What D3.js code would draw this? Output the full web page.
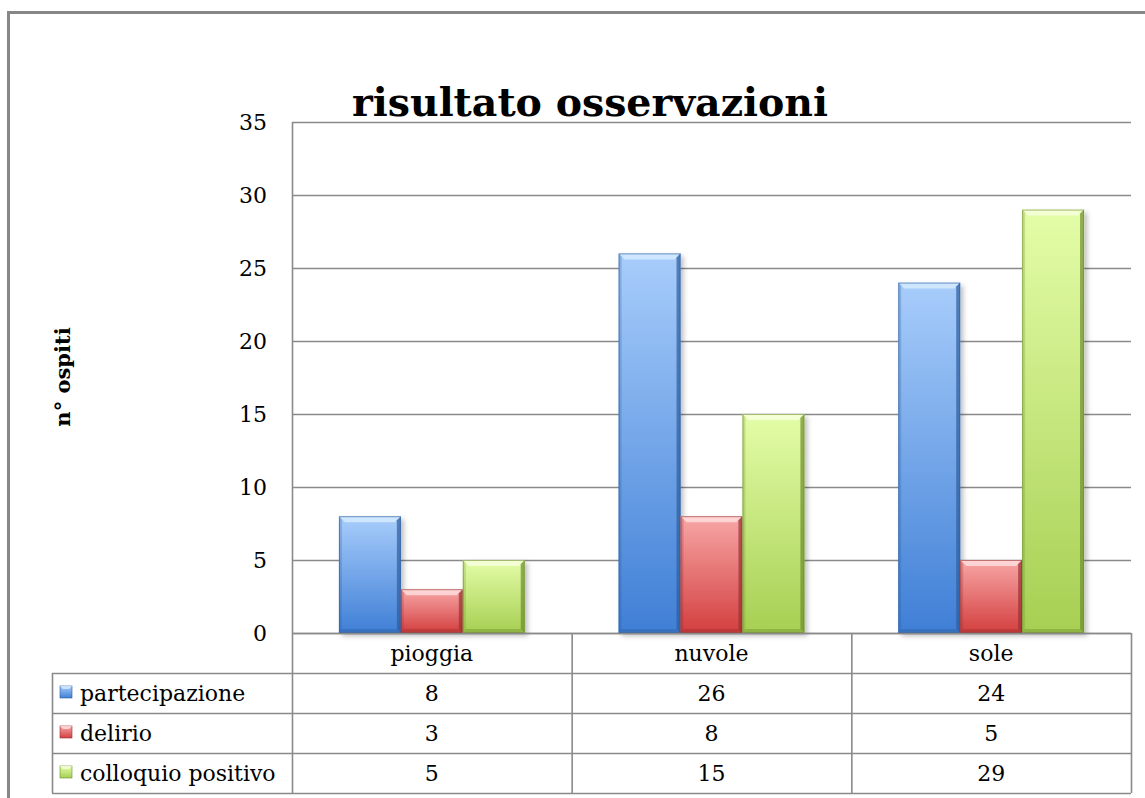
<!DOCTYPE html>
<html>
<head>
<meta charset="utf-8">
<script src="https://cdn.jsdelivr.net/npm/d3@7"></script>
<style>
  html, body { margin: 0; padding: 0; background: #fff; }
  svg { display: block; }
  text { font-family: "DejaVu Serif", "Liberation Serif", serif; fill: #000; }
</style>
</head>
<body>
<svg id="chart" width="1145" height="798"></svg>
<script>
// ---- data ----
const categories = ["pioggia", "nuvole", "sole"];
const seriesNames = ["partecipazione", "delirio", "colloquio positivo"];
const partecipazione = [8, 26, 24];
const delirio = [3, 8, 5];
const colloquioPositivo = [5, 15, 29];
const yTicks = [0, 5, 10, 15, 20, 25, 30, 35];
const titleText = "risultato osservazioni";
const yLabel = "n° ospiti";

const seriesValues = [partecipazione, delirio, colloquioPositivo];
const palette = [
  { top: "#a8cdfb", bottom: "#3f7fd6", edge: "#2d5c9c", light: "#d8ecff" },
  { top: "#f8a6a6", bottom: "#d33f3f", edge: "#983030", light: "#ffe0e0" },
  { top: "#e4fda8", bottom: "#a6cf52", edge: "#6c8c2e", light: "#f8ffe0" }
];
const FONT = '"DejaVu Serif", "Liberation Serif", serif';

const svg = d3.select("#chart");
const defs = svg.append("defs");
palette.forEach((p, i) => {
  const g = defs.append("linearGradient").attr("id", "grad" + i)
    .attr("x1", 0).attr("y1", 0).attr("x2", 0).attr("y2", 1);
  g.append("stop").attr("offset", "0%").attr("stop-color", p.top);
  g.append("stop").attr("offset", "100%").attr("stop-color", p.bottom);
});
const sh = defs.append("filter").attr("id", "shadow")
  .attr("x", "-20%").attr("y", "-10%").attr("width", "150%").attr("height", "130%");
sh.append("feDropShadow").attr("dx", 3).attr("dy", 3).attr("stdDeviation", 2.5)
  .attr("flood-color", "#000").attr("flood-opacity", 0.25);

// outer frame
svg.append("rect").attr("x", 8.5).attr("y", 12.5).attr("width", 1160).attr("height", 820)
  .attr("fill", "none").attr("stroke", "#878787").attr("stroke-width", 3);

// ---- scales ----
const plotLeft = 292, plotRight = 1131, plotTop = 122, plotBottom = 633;
const x0 = d3.scaleBand().domain(categories).range([plotLeft, plotRight]).paddingInner(0).paddingOuter(0);
const x1 = d3.scaleBand().domain(seriesNames).range([0, x0.bandwidth()]).paddingInner(0).paddingOuter(0.758);
const y = d3.scaleLinear().domain([0, 35]).range([plotBottom, plotTop]);

// gridlines
const grid = svg.append("g");
grid.selectAll("line").data(yTicks).join("line")
  .attr("x1", plotLeft).attr("x2", plotRight)
  .attr("y1", d => Math.round(y(d)) + 0.5).attr("y2", d => Math.round(y(d)) + 0.5)
  .attr("stroke", "#8a8a8a").attr("stroke-width", 1.6);
// left axis line
svg.append("line").attr("x1", plotLeft + 0.5).attr("x2", plotLeft + 0.5)
  .attr("y1", plotTop).attr("y2", 793).attr("stroke", "#8a8a8a").attr("stroke-width", 1.6);

// y axis tick labels via d3 axis
const yAxis = d3.axisLeft(y).tickValues(yTicks).tickSize(0).tickPadding(25).tickFormat(d3.format("d"));
const ya = svg.append("g").attr("transform", `translate(${plotLeft},0)`).call(yAxis);
ya.select(".domain").remove();
ya.selectAll("text").style("font-family", FONT)
  .style("font-size", "22px").attr("fill", "#000");

// bars
const groups = svg.append("g").selectAll("g").data(categories).join("g")
  .attr("transform", d => `translate(${x0(d)},0)`);
groups.each(function(cat, ci) {
  const g = d3.select(this);
  seriesNames.forEach((s, si) => {
    const v = seriesValues[si][ci];
    const bx = x1(s), bw = x1.bandwidth();
    const by = y(v), bh = y(0) - y(v);
    const p = palette[si];
    const bar = g.append("g");
    bar.append("rect").attr("x", bx).attr("y", by).attr("width", bw).attr("height", bh)
      .attr("fill", `url(#grad${si})`).attr("filter", "url(#shadow)");
    const bev = 6;
    bar.append("path")
      .attr("d", `M${bx},${by} L${bx + bw},${by} L${bx + bw - bev},${by + bev} L${bx + bev},${by + bev} Z`)
      .attr("fill", p.light).attr("opacity", 0.8);
    bar.append("path")
      .attr("d", `M${bx + bw},${by} L${bx + bw},${by + bh} L${bx + bw - 4},${by + bh - 4} L${bx + bw - 4},${by + 4} Z`)
      .attr("fill", p.edge).attr("opacity", 0.7);
    bar.append("path")
      .attr("d", `M${bx},${by} L${bx + 3},${by + 3} L${bx + 3},${by + bh - 3} L${bx},${by + bh} Z`)
      .attr("fill", p.edge).attr("opacity", 0.25);
    bar.append("path")
      .attr("d", `M${bx},${by + bh} L${bx + bw},${by + bh} L${bx + bw - 4},${by + bh - 4} L${bx + 3},${by + bh - 4} Z`)
      .attr("fill", p.edge).attr("opacity", 0.4);
    bar.append("rect").attr("x", bx + 0.5).attr("y", by + 0.5).attr("width", bw - 1).attr("height", bh - 1)
      .attr("fill", "none").attr("stroke", p.edge).attr("stroke-opacity", 0.6).attr("stroke-width", 1);
  });
});

// zero line on top
svg.append("line").attr("x1", plotLeft).attr("x2", plotRight)
  .attr("y1", Math.round(y(0)) + 0.5).attr("y2", Math.round(y(0)) + 0.5)
  .attr("stroke", "#8a8a8a").attr("stroke-width", 1.6);

// data table
const tableLeft = 52, rowH = 40;
const tbl = svg.append("g");
const lineStyle = sel => sel.attr("stroke", "#8a8a8a").attr("stroke-width", 1.6);
[1, 2, 3, 4].forEach(r => {
  const yy = plotBottom + r * rowH;
  tbl.append("line").attr("x1", tableLeft).attr("x2", plotRight).attr("y1", yy + 0.5).attr("y2", yy + 0.5).call(lineStyle);
});
tbl.append("line").attr("x1", tableLeft + 0.5).attr("x2", tableLeft + 0.5)
  .attr("y1", plotBottom + rowH).attr("y2", plotBottom + 4 * rowH).call(lineStyle);
categories.forEach(c => {
  const xx = x0(c) + x0.bandwidth();
  tbl.append("line").attr("x1", xx + 0.5).attr("x2", xx + 0.5)
    .attr("y1", plotBottom).attr("y2", plotBottom + 4 * rowH).call(lineStyle);
});
tbl.selectAll("text.cat").data(categories).join("text").attr("class", "cat")
  .attr("x", d => x0(d) + x0.bandwidth() / 2).attr("y", plotBottom + rowH / 2)
  .attr("dy", "0.35em").attr("text-anchor", "middle").style("font-size", "22px").text(d => d);
seriesNames.forEach((s, si) => {
  const cy = plotBottom + (si + 1.5) * rowH;
  tbl.append("rect").attr("x", 60).attr("y", cy - 7).attr("width", 12).attr("height", 12)
    .attr("fill", `url(#grad${si})`).attr("stroke", palette[si].edge).attr("stroke-width", 0.6);
  tbl.append("path").attr("d", `M60,${cy - 7} L72,${cy - 7} L69,${cy - 4} L63,${cy - 4} Z`)
    .attr("fill", palette[si].light).attr("opacity", 0.8);
  tbl.append("text").attr("x", 80).attr("y", cy).attr("dy", "0.35em")
    .style("font-size", "22px").text(s);
  categories.forEach((c, ci) => {
    tbl.append("text").attr("x", x0(c) + x0.bandwidth() / 2).attr("y", cy).attr("dy", "0.35em")
      .attr("text-anchor", "middle").style("font-size", "22px").text(seriesValues[si][ci]);
  });
});

// title
svg.append("text").attr("x", 590).attr("y", 116).attr("text-anchor", "middle")
  .attr("textLength", 476).attr("lengthAdjust", "spacingAndGlyphs")
  .style("font-size", "40px").style("font-weight", "bold").text(titleText);

// y label
svg.append("text").attr("transform", "translate(70,377) rotate(-90)")
  .attr("text-anchor", "middle").style("font-size", "21px").style("font-weight", "bold").text(yLabel);
</script>
</body>
</html>
